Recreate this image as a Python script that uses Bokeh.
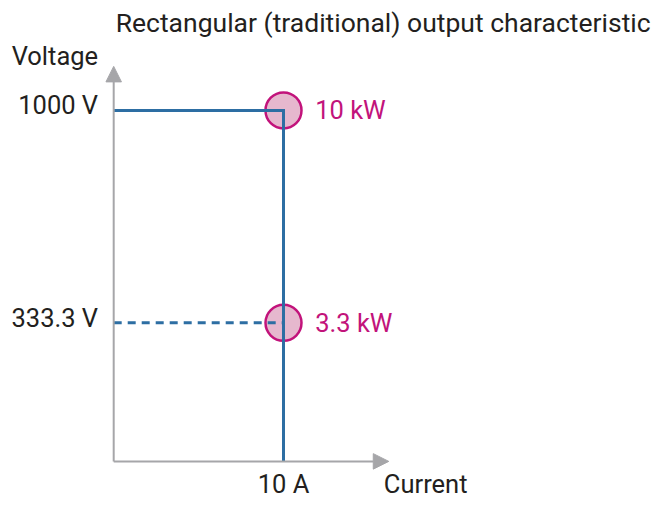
from bokeh.plotting import figure
from bokeh.models import Range1d, Arrow, NormalHead
from bokeh.core.properties import value
from bokeh.embed import file_html
from bokeh.resources import INLINE

# ---- data ----
current_limit = 10.0                      # A
current_tick_labels = ["10 A"]
voltage_levels = [1000.0, 333.3]          # V
voltage_tick_labels = ["1000 V", "333.3 V"]
power_labels = ["10 kW", "3.3 kW"]
title_text = "Rectangular (traditional) output characteristic"
x_axis_title = "Current"
y_axis_title = "Voltage"

# ---- layout constants (schematic drawing, not to scale) ----
axis_origin_v = -101.6     # where the current axis is drawn
axis_end_i = 16.2          # tip of current arrow
axis_end_v = 1138.4        # tip of voltage arrow

BLUE = "#2d6ea3"
MAGENTA = "#c2137b"
PINK = "#e6b8ce"
GRAY = "#a6a6a9"
TEXT = "#231f20"
FONT = value("Roboto")
FS = "25.5px"

W, H = 654, 498
p = figure(width=W, height=H, output_backend="svg", toolbar_location=None,
           x_range=Range1d(-6.667, 31.85), y_range=Range1d(-218.1, 1345.2),
           min_border=0, min_border_left=0, min_border_right=0,
           min_border_top=0, min_border_bottom=0)
p.axis.visible = False
p.grid.visible = False
p.outline_line_color = None
p.background_fill_color = "white"
p.border_fill_color = "white"

# axes with arrow heads
p.add_layout(Arrow(end=NormalHead(size=15.5, fill_color=GRAY, line_color=GRAY, line_width=1),
                   x_start=0, y_start=axis_origin_v, x_end=axis_end_i, y_end=axis_origin_v,
                   line_color=GRAY, line_width=2))
p.add_layout(Arrow(end=NormalHead(size=15.5, fill_color=GRAY, line_color=GRAY, line_width=1),
                   x_start=0, y_start=axis_origin_v, x_end=0, y_end=axis_end_v,
                   line_color=GRAY, line_width=2))

# operating point circles
p.scatter(x=[current_limit] * len(voltage_levels), y=voltage_levels, size=36,
          fill_color=PINK, line_color=MAGENTA, line_width=2.5)

# rectangular characteristic
p.line(x=[0, current_limit, current_limit],
       y=[voltage_levels[0], voltage_levels[0], axis_origin_v],
       line_color=BLUE, line_width=3, line_join="miter")
p.line(x=[0, current_limit], y=[voltage_levels[1], voltage_levels[1]],
       line_color=BLUE, line_width=3, line_dash="8 6")

common = dict(text_font=FONT, text_font_size=FS, text_baseline="alphabetic")
# voltage tick labels
p.text(x=[0] * len(voltage_levels), y=voltage_levels, text=voltage_tick_labels,
       text_color=TEXT, text_align="right", x_offset=-15.6, y_offset=-5, **common)
# power labels
p.text(x=[current_limit] * len(voltage_levels), y=voltage_levels, text=power_labels,
       text_color=MAGENTA, text_align="left", x_offset=31.7, y_offset=0, **common)
# current tick label
p.text(x=[current_limit], y=[axis_origin_v], text=current_tick_labels,
       text_color=TEXT, text_align="center", y_offset=22.3, **common)
# axis titles
p.text(x=[axis_end_i], y=[axis_origin_v], text=[x_axis_title],
       text_color=TEXT, text_align="left", x_offset=-4.9, y_offset=22.3, **common)
p.text(x=[0], y=[axis_end_v], text=[y_axis_title],
       text_color=TEXT, text_align="right", x_offset=-15.6, y_offset=-10.7, **common)
# chart title
p.text(x=[0], y=[axis_end_v], text=[title_text],
       text_font=FONT, text_font_size="26.5px", text_baseline="alphabetic",
       text_color=TEXT, text_align="left", x_offset=2, y_offset=-43.6)

open("out.html", "w").write(file_html(p, INLINE))
